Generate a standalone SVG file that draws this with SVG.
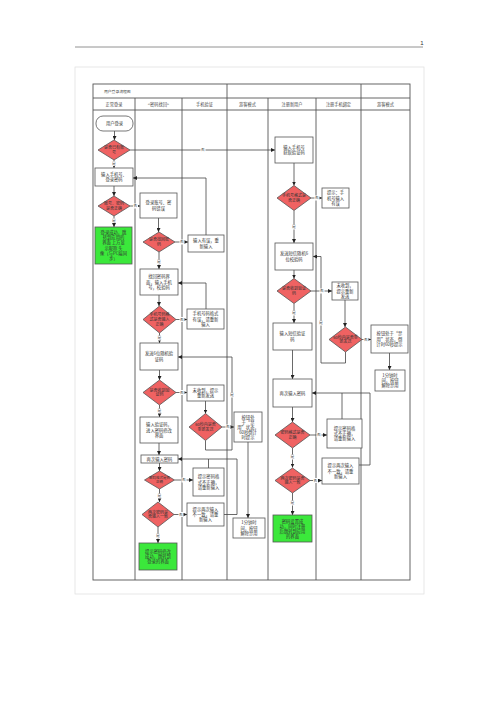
<svg xmlns="http://www.w3.org/2000/svg" width="500" height="707" viewBox="0 0 500 707">
<style>
.bg{fill:#fff}
.frame{fill:none;stroke:#e2e2e2;stroke-width:0.8}
.tbl{fill:none;stroke:#555;stroke-width:0.9}
.b{fill:#fff;stroke:#555;stroke-width:0.8}
.d{fill:#EF6262;stroke:#555;stroke-width:0.8}
.g{fill:#3BE83B;stroke:#555;stroke-width:0.8}
.t{font-family:"Noto Sans CJK SC","Noto Sans",sans-serif;font-size:4.3px;fill:#333;text-anchor:middle}
.td{font-family:"Noto Sans CJK SC","Noto Sans",sans-serif;font-size:4px;fill:#333;text-anchor:middle}
.h{font-family:"Noto Sans CJK SC","Noto Sans",sans-serif;font-size:4.2px;fill:#444;text-anchor:middle}
.c{fill:none;stroke:#444;stroke-width:0.8;marker-end:url(#a)}
.cn{fill:none;stroke:#444;stroke-width:0.8}
.lr{fill:#fff}
.lt{font-family:"Noto Sans CJK SC","Noto Sans",sans-serif;font-size:3.8px;fill:#444;text-anchor:middle}
</style>
<defs>
<marker id="a" markerWidth="4" markerHeight="4" refX="4" refY="2" orient="auto" markerUnits="userSpaceOnUse">
<path d="M0,0 L4,2 L0,4 z" fill="#222"/>
</marker>
</defs>
<rect class="bg" x="0" y="0" width="500" height="707"/>
<line x1="75" y1="47" x2="423" y2="47" stroke="#777" stroke-width="0.8"/>
<text x="422" y="45" font-family="Liberation Sans, sans-serif" font-size="6" fill="#333" text-anchor="middle">1</text>
<rect class="frame" x="75" y="67" width="349" height="527"/>

<g id="table">
<rect class="tbl" x="93" y="84" width="317" height="496"/>
<line class="tbl" x1="93" y1="98" x2="410" y2="98"/>
<line class="tbl" x1="93" y1="110" x2="410" y2="110"/>
<line class="tbl" x1="135" y1="98" x2="135" y2="580"/>
<line class="tbl" x1="182" y1="98" x2="182" y2="580"/>
<line class="tbl" x1="227" y1="84" x2="227" y2="580"/>
<line class="tbl" x1="268" y1="98" x2="268" y2="580"/>
<line class="tbl" x1="316" y1="98" x2="316" y2="580"/>
<line class="tbl" x1="361" y1="84" x2="361" y2="580"/>
<text class="h" x="104" y="92.5" style="text-anchor:start;font-size:3.8px">用户登录流程图</text>
<text class="h" x="114" y="105.5">正常登录</text>
<text class="h" x="158.5" y="105.5">&lt;密码找回&gt;</text>
<text class="h" x="204.5" y="105.5">手机验证</text>
<text class="h" x="247.5" y="105.5">游客模式</text>
<text class="h" x="292" y="105.5">注册新用户</text>
<text class="h" x="338.5" y="105.5">注册手机绑定</text>
<text class="h" x="385.5" y="105.5">游客模式</text>
</g>

<g id="connectors">
<path class="c" d="M114.5,131 V140"/>
<path class="c" d="M130,150 H275"/>
<path class="c" d="M114,160 V168"/>
<path class="c" d="M114,186 V196"/>
<path class="c" d="M130,206 H140"/>
<path class="c" d="M114,216 V227"/>
<path class="c" d="M158.5,218 V232"/>
<path class="c" d="M175,242 H188"/>
<path class="c" d="M159,252 V269"/>
<path class="c" d="M206,235 V178 H133"/>
<path class="c" d="M159,295 V306"/>
<path class="c" d="M176,319.5 H187"/>
<path class="c" d="M159.5,333 V343"/>
<path class="c" d="M206,309 V283 H178"/>
<path class="c" d="M159.5,370 V380"/>
<path class="c" d="M176,392.5 H187"/>
<path class="c" d="M159.5,405 V417"/>
<path class="c" d="M205.5,401 V413.5"/>
<path class="c" d="M222,427 H234"/>
<path class="c" d="M205.5,440.5 V450 H232 V357 H178"/>
<path class="c" d="M248,442 V518"/>
<path class="c" d="M159,443 V455"/>
<path class="c" d="M159.5,463 V471"/>
<path class="c" d="M174.5,480 H193"/>
<path class="c" d="M159.5,489 V502"/>
<path class="c" d="M208.5,468 V459 H178"/>
<path class="cn" d="M224,514.5 H237 V459 H208.5"/>
<path class="c" d="M174,514.5 H187"/>
<path class="c" d="M158,527 V543"/>
<path class="c" d="M294,163 V185.5"/>
<path class="c" d="M311,198 H322"/>
<path class="c" d="M294,210.5 V243"/>
<path class="c" d="M294,270 V278.5"/>
<path class="c" d="M311,291 H332"/>
<path class="c" d="M294,303.5 V323"/>
<path class="c" d="M345,300 V327"/>
<path class="c" d="M362,339.5 H371"/>
<path class="c" d="M345.5,352 V363 H321 V256.5 H313"/>
<path class="c" d="M389.5,353 V370"/>
<path class="c" d="M292.5,350 V379"/>
<path class="c" d="M292.5,407 V422"/>
<path class="c" d="M310,435 H327"/>
<path class="c" d="M292.5,448 V467.5"/>
<path class="c" d="M342,419 V393 H312"/>
<path class="cn" d="M359,465 H370 V393 H342"/>
<path class="c" d="M310,480.5 H322"/>
<path class="c" d="M292.5,493 V515"/>
<g id="labels">
<rect class="lr" x="200.5" y="147.5" width="5" height="5"/><text class="lt" x="203" y="151.3">否</text>
<rect class="lr" x="111.5" y="161" width="5" height="5"/><text class="lt" x="114" y="164.8">是</text>
<rect class="lr" x="133" y="203.5" width="5" height="5"/><text class="lt" x="135.5" y="207.3">否</text>
<rect class="lr" x="111.5" y="218" width="5" height="5"/><text class="lt" x="114" y="221.8">是</text>
<rect class="lr" x="179.5" y="239.5" width="5" height="5"/><text class="lt" x="182" y="243.3">否</text>
<rect class="lr" x="156.5" y="259.5" width="5" height="5"/><text class="lt" x="159" y="263.3">是</text>
<rect class="lr" x="179.5" y="317" width="5" height="5"/><text class="lt" x="182" y="320.8">否</text>
<rect class="lr" x="157" y="335.5" width="5" height="5"/><text class="lt" x="159.5" y="339.3">是</text>
<rect class="lr" x="179.5" y="390" width="5" height="5"/><text class="lt" x="182" y="393.8">否</text>
<rect class="lr" x="157" y="408.5" width="5" height="5"/><text class="lt" x="159.5" y="412.3">是</text>
<rect class="lr" x="225.5" y="424.5" width="5" height="5"/><text class="lt" x="228" y="428.3">否</text>
<rect class="lr" x="229.5" y="392.5" width="5" height="5"/><text class="lt" x="232" y="396.3">是</text>
<rect class="lr" x="181.5" y="477.5" width="5" height="5"/><text class="lt" x="184" y="481.3">否</text>
<rect class="lr" x="157" y="493.5" width="5" height="5"/><text class="lt" x="159.5" y="497.3">是</text>
<rect class="lr" x="178.5" y="512" width="5" height="5"/><text class="lt" x="181" y="515.8">否</text>
<rect class="lr" x="155.5" y="533.5" width="5" height="5"/><text class="lt" x="158" y="537.3">是</text>
<rect class="lr" x="314.5" y="195.5" width="5" height="5"/><text class="lt" x="317" y="199.3">否</text>
<rect class="lr" x="291.5" y="224.5" width="5" height="5"/><text class="lt" x="294" y="228.3">是</text>
<rect class="lr" x="319.5" y="288.5" width="5" height="5"/><text class="lt" x="322" y="292.3">否</text>
<rect class="lr" x="291.5" y="310.5" width="5" height="5"/><text class="lt" x="294" y="314.3">是</text>
<rect class="lr" x="363.5" y="337" width="5" height="5"/><text class="lt" x="366" y="340.8">否</text>
<rect class="lr" x="318.5" y="320.5" width="5" height="5"/><text class="lt" x="321" y="324.3">是</text>
<rect class="lr" x="316.5" y="432.5" width="5" height="5"/><text class="lt" x="319" y="436.3">否</text>
<rect class="lr" x="290" y="454.5" width="5" height="5"/><text class="lt" x="292.5" y="458.3">是</text>
<rect class="lr" x="313" y="478" width="5" height="5"/><text class="lt" x="315.5" y="481.8">否</text>
<rect class="lr" x="290" y="500.5" width="5" height="5"/><text class="lt" x="292.5" y="504.3">是</text>
</g>
</g>

<g id="n-login"><rect class="b" x="96" y="116" width="37" height="15" rx="7"/><text class="t" x="114.5" y="125">用户登录</text></g>
<g id="d-has-account"><polygon class="d" points="114,140 130,150 114,160 98,150"/><text class="td" x="114" y="149"><tspan x="114">是否已有账</tspan><tspan x="114" dy="4.8">号</tspan></text></g>
<g id="n-input-login"><rect class="b" x="95" y="168" width="38" height="18"/><text class="t" x="114" y="175.9"><tspan x="114">输入手机号、</tspan><tspan x="114" dy="5.2">登录密码</tspan></text></g>
<g id="d-pwd-ok"><polygon class="d" points="114,196 130,206 114,216 98,206"/><text class="td" x="114" y="205"><tspan x="114">账号、密码</tspan><tspan x="114" dy="4.8">是否正确</tspan></text></g>
<g id="n-login-ok"><rect class="g" x="95" y="227" width="37" height="37"/><text class="t" x="113.5" y="234"><tspan x="113.5">登录成功，跳</tspan><tspan x="113.5" dy="5.2">转到应用的</tspan><tspan x="113.5" dy="5.2">界面 上方显</tspan><tspan x="113.5" dy="5.2">示昵称 头</tspan><tspan x="113.5" dy="5.2">像（与PC端同</tspan><tspan x="113.5" dy="5.2">步）</tspan></text></g>

<g id="n-login-err"><rect class="b" x="140" y="193" width="37" height="25"/><text class="t" x="158.5" y="204.4"><tspan x="158.5">登录账号、密</tspan><tspan x="158.5" dy="5.2">码错误</tspan></text></g>
<g id="d-find-pwd"><polygon class="d" points="159,232 175,242 159,252 143,242"/><text class="td" x="159" y="241"><tspan x="159">是否找回密</tspan><tspan x="159" dy="4.8">码</tspan></text></g>
<g id="n-input-err"><rect class="b" x="188" y="235" width="36" height="17"/><text class="t" x="206" y="242.4"><tspan x="206">输入有误，重</tspan><tspan x="206" dy="5.2">新输入</tspan></text></g>
<g id="n-find-page"><rect class="b" x="140" y="269" width="38" height="26"/><text class="t" x="159" y="278.3"><tspan x="159">找回密码界</tspan><tspan x="159" dy="5.2">面，输入手机</tspan><tspan x="159" dy="5.2">号，校验码</tspan></text></g>
<g id="d-phone-ok"><polygon class="d" points="159.5,306 176,319.5 159.5,333 143,319.5"/><text class="td" x="159.5" y="316.3"><tspan x="159.5">手机号码格</tspan><tspan x="159.5" dy="4.8">式是否输入</tspan><tspan x="159.5" dy="4.8">正确</tspan></text></g>
<g id="n-phone-err"><rect class="b" x="187" y="309" width="37" height="20"/><text class="t" x="205.5" y="315.3"><tspan x="205.5">手机号码格式</tspan><tspan x="205.5" dy="5.2">有误，请重新</tspan><tspan x="205.5" dy="5.2">输入</tspan></text></g>
<g id="n-send-code"><rect class="b" x="140" y="343" width="38" height="27"/><text class="t" x="159" y="355.4"><tspan x="159">发送6位随机验</tspan><tspan x="159" dy="5.2">证码</tspan></text></g>
<g id="d-got-code"><polygon class="d" points="159.5,380 176,392.5 159.5,405 143,392.5"/><text class="td" x="159.5" y="391.5"><tspan x="159.5">是否收到验</tspan><tspan x="159.5" dy="4.8">证码</tspan></text></g>
<g id="n-not-got"><rect class="b" x="187" y="385" width="37" height="16"/><text class="t" x="205.5" y="391.9"><tspan x="205.5">未收到，提示</tspan><tspan x="205.5" dy="5.2">重新发送</tspan></text></g>
<g id="d-resend"><polygon class="d" points="205.5,413.5 222,427 205.5,440.5 189,427"/><text class="td" x="205.5" y="426"><tspan x="205.5">60秒内是否</tspan><tspan x="205.5" dy="4.8">重新发送</tspan></text></g>
<g id="n-disabled"><rect class="b" x="234" y="412" width="28" height="30"/><text class="t" x="248" y="418.6"><tspan x="248">按钮处</tspan><tspan x="248" dy="5.2">于“禁</tspan><tspan x="248" dy="5.2">用”状态，</tspan><tspan x="248" dy="5.2">60秒倒计</tspan><tspan x="248" dy="5.2">时提示</tspan></text></g>
<g id="n-unlock"><rect class="b" x="233" y="518" width="32" height="20"/><text class="t" x="249" y="524.3"><tspan x="249">1分钟时</tspan><tspan x="249" dy="5.2">间，按钮</tspan><tspan x="249" dy="5.2">解除禁用</tspan></text></g>
<g id="n-input-code"><rect class="b" x="140" y="417" width="38" height="26"/><text class="t" x="159" y="426.3"><tspan x="159">输入验证码，</tspan><tspan x="159" dy="5.2">进入密码修改</tspan><tspan x="159" dy="5.2">界面</tspan></text></g>
<g id="n-reinput"><rect class="b" x="141" y="455" width="37" height="8"/><text class="t" x="159.5" y="460.5">再次输入密码</text></g>
<g id="d-fmt"><polygon class="d" points="159.5,471 174.5,480 159.5,489 144.5,480"/><text class="td" x="159.5" y="479.3" style="font-size:3.5px"><tspan x="159.5">密码格式是否</tspan><tspan x="159.5" dy="4">正确</tspan></text></g>
<g id="n-fmt-err"><rect class="b" x="193" y="468" width="31" height="28"/><text class="t" x="208.5" y="478.3"><tspan x="208.5">提示密码格</tspan><tspan x="208.5" dy="5.2">式不正确，</tspan><tspan x="208.5" dy="5.2">请重新输入</tspan></text></g>
<g id="d-same"><polygon class="d" points="158,502 174,514.5 158,527 142,514.5"/><text class="td" x="158" y="513.5"><tspan x="158">两次密码是</tspan><tspan x="158" dy="4.8">否输入一致</tspan></text></g>
<g id="n-same-err"><rect class="b" x="187" y="503" width="37" height="23"/><text class="t" x="205.5" y="510.8"><tspan x="205.5">提示两次输入</tspan><tspan x="205.5" dy="5.2">不一致，请重</tspan><tspan x="205.5" dy="5.2">新输入</tspan></text></g>
<g id="n-reset-ok"><rect class="g" x="139" y="543" width="38" height="27"/><text class="t" x="158" y="552.8"><tspan x="158">提示密码修改</tspan><tspan x="158" dy="5.2">成功，跳转到</tspan><tspan x="158" dy="5.2">登录的界面</tspan></text></g>

<g id="n-reg-phone"><rect class="b" x="275" y="137" width="38" height="26"/><text class="t" x="294" y="148.9"><tspan x="294">输入手机号</tspan><tspan x="294" dy="5.2">获取验证码</tspan></text></g>
<g id="d-reg-fmt"><polygon class="d" points="294,185.5 311,198 294,210.5 277,198"/><text class="td" x="294" y="197"><tspan x="294">手机号格式是</tspan><tspan x="294" dy="4.8">否正确</tspan></text></g>
<g id="n-reg-phone-err"><rect class="b" x="322" y="188" width="27" height="20"/><text class="t" x="335.5" y="194.3"><tspan x="335.5">提示：手</tspan><tspan x="335.5" dy="5.2">机号输入</tspan><tspan x="335.5" dy="5.2">有误</tspan></text></g>
<g id="n-reg-send"><rect class="b" x="275" y="243" width="38" height="27"/><text class="t" x="294" y="255.4"><tspan x="294">发送短信随机6</tspan><tspan x="294" dy="5.2">位校验码</tspan></text></g>
<g id="d-reg-got"><polygon class="d" points="294,278.5 311,291 294,303.5 277,291"/><text class="td" x="294" y="290"><tspan x="294">是否收到验证</tspan><tspan x="294" dy="4.8">码</tspan></text></g>
<g id="n-reg-not-got"><rect class="b" x="332" y="282" width="26" height="18"/><text class="t" x="345" y="287.3"><tspan x="345">未收到，</tspan><tspan x="345" dy="5.2">提示重新</tspan><tspan x="345" dy="5.2">发送</tspan></text></g>
<g id="d-reg-resend"><polygon class="d" points="345.5,327 362,339.5 345.5,352 329,339.5"/><text class="td" x="345.5" y="338.5"><tspan x="345.5">60秒内是否重</tspan><tspan x="345.5" dy="4.8">新发送</tspan></text></g>
<g id="n-reg-disabled"><rect class="b" x="371" y="325" width="37" height="28"/><text class="t" x="389.5" y="335.3"><tspan x="389.5">按钮处于“禁</tspan><tspan x="389.5" dy="5.2">用”状态，倒</tspan><tspan x="389.5" dy="5.2">计时60秒提示</tspan></text></g>
<g id="n-reg-unlock"><rect class="b" x="375" y="370" width="30" height="21"/><text class="t" x="390" y="376.8"><tspan x="390">1分钟时</tspan><tspan x="390" dy="5.2">间，按钮</tspan><tspan x="390" dy="5.2">解除禁用</tspan></text></g>
<g id="n-reg-input-code"><rect class="b" x="273" y="323" width="39" height="27"/><text class="t" x="292.5" y="335.4"><tspan x="292.5">输入短信验证</tspan><tspan x="292.5" dy="5.2">码</tspan></text></g>
<g id="n-reg-pwd"><rect class="b" x="273" y="379" width="39" height="28"/><text class="t" x="292.5" y="394.5">再次输入密码</text></g>
<g id="d-reg-pwd-fmt"><polygon class="d" points="292.5,422 310,435 292.5,448 275,435"/><text class="td" x="292.5" y="434"><tspan x="292.5">密码格式是否</tspan><tspan x="292.5" dy="4.8">正确</tspan></text></g>
<g id="n-reg-fmt-err"><rect class="b" x="327" y="419" width="35" height="29"/><text class="t" x="344.5" y="429.8"><tspan x="344.5">提示密码格</tspan><tspan x="344.5" dy="5.2">式不正确，</tspan><tspan x="344.5" dy="5.2">请重新输入</tspan></text></g>
<g id="d-reg-same"><polygon class="d" points="292.5,468 310,480.5 292.5,493 275,480.5"/><text class="td" x="292.5" y="479.5"><tspan x="292.5">两次密码是否</tspan><tspan x="292.5" dy="4.8">输入一致</tspan></text></g>
<g id="n-reg-same-err"><rect class="b" x="322" y="458" width="37" height="26"/><text class="t" x="340.5" y="467.3"><tspan x="340.5">提示两次输入</tspan><tspan x="340.5" dy="5.2">不一致，请重</tspan><tspan x="340.5" dy="5.2">新输入</tspan></text></g>
<g id="n-reg-ok"><rect class="g" x="273" y="515" width="39" height="27"/><text class="t" x="292.5" y="522.7"><tspan x="292.5">密码设置成</tspan><tspan x="292.5" dy="5.2">功，同时注册</tspan><tspan x="292.5" dy="5.2">后跳转到应用</tspan><tspan x="292.5" dy="5.2">的界面</tspan></text></g>
</svg>
